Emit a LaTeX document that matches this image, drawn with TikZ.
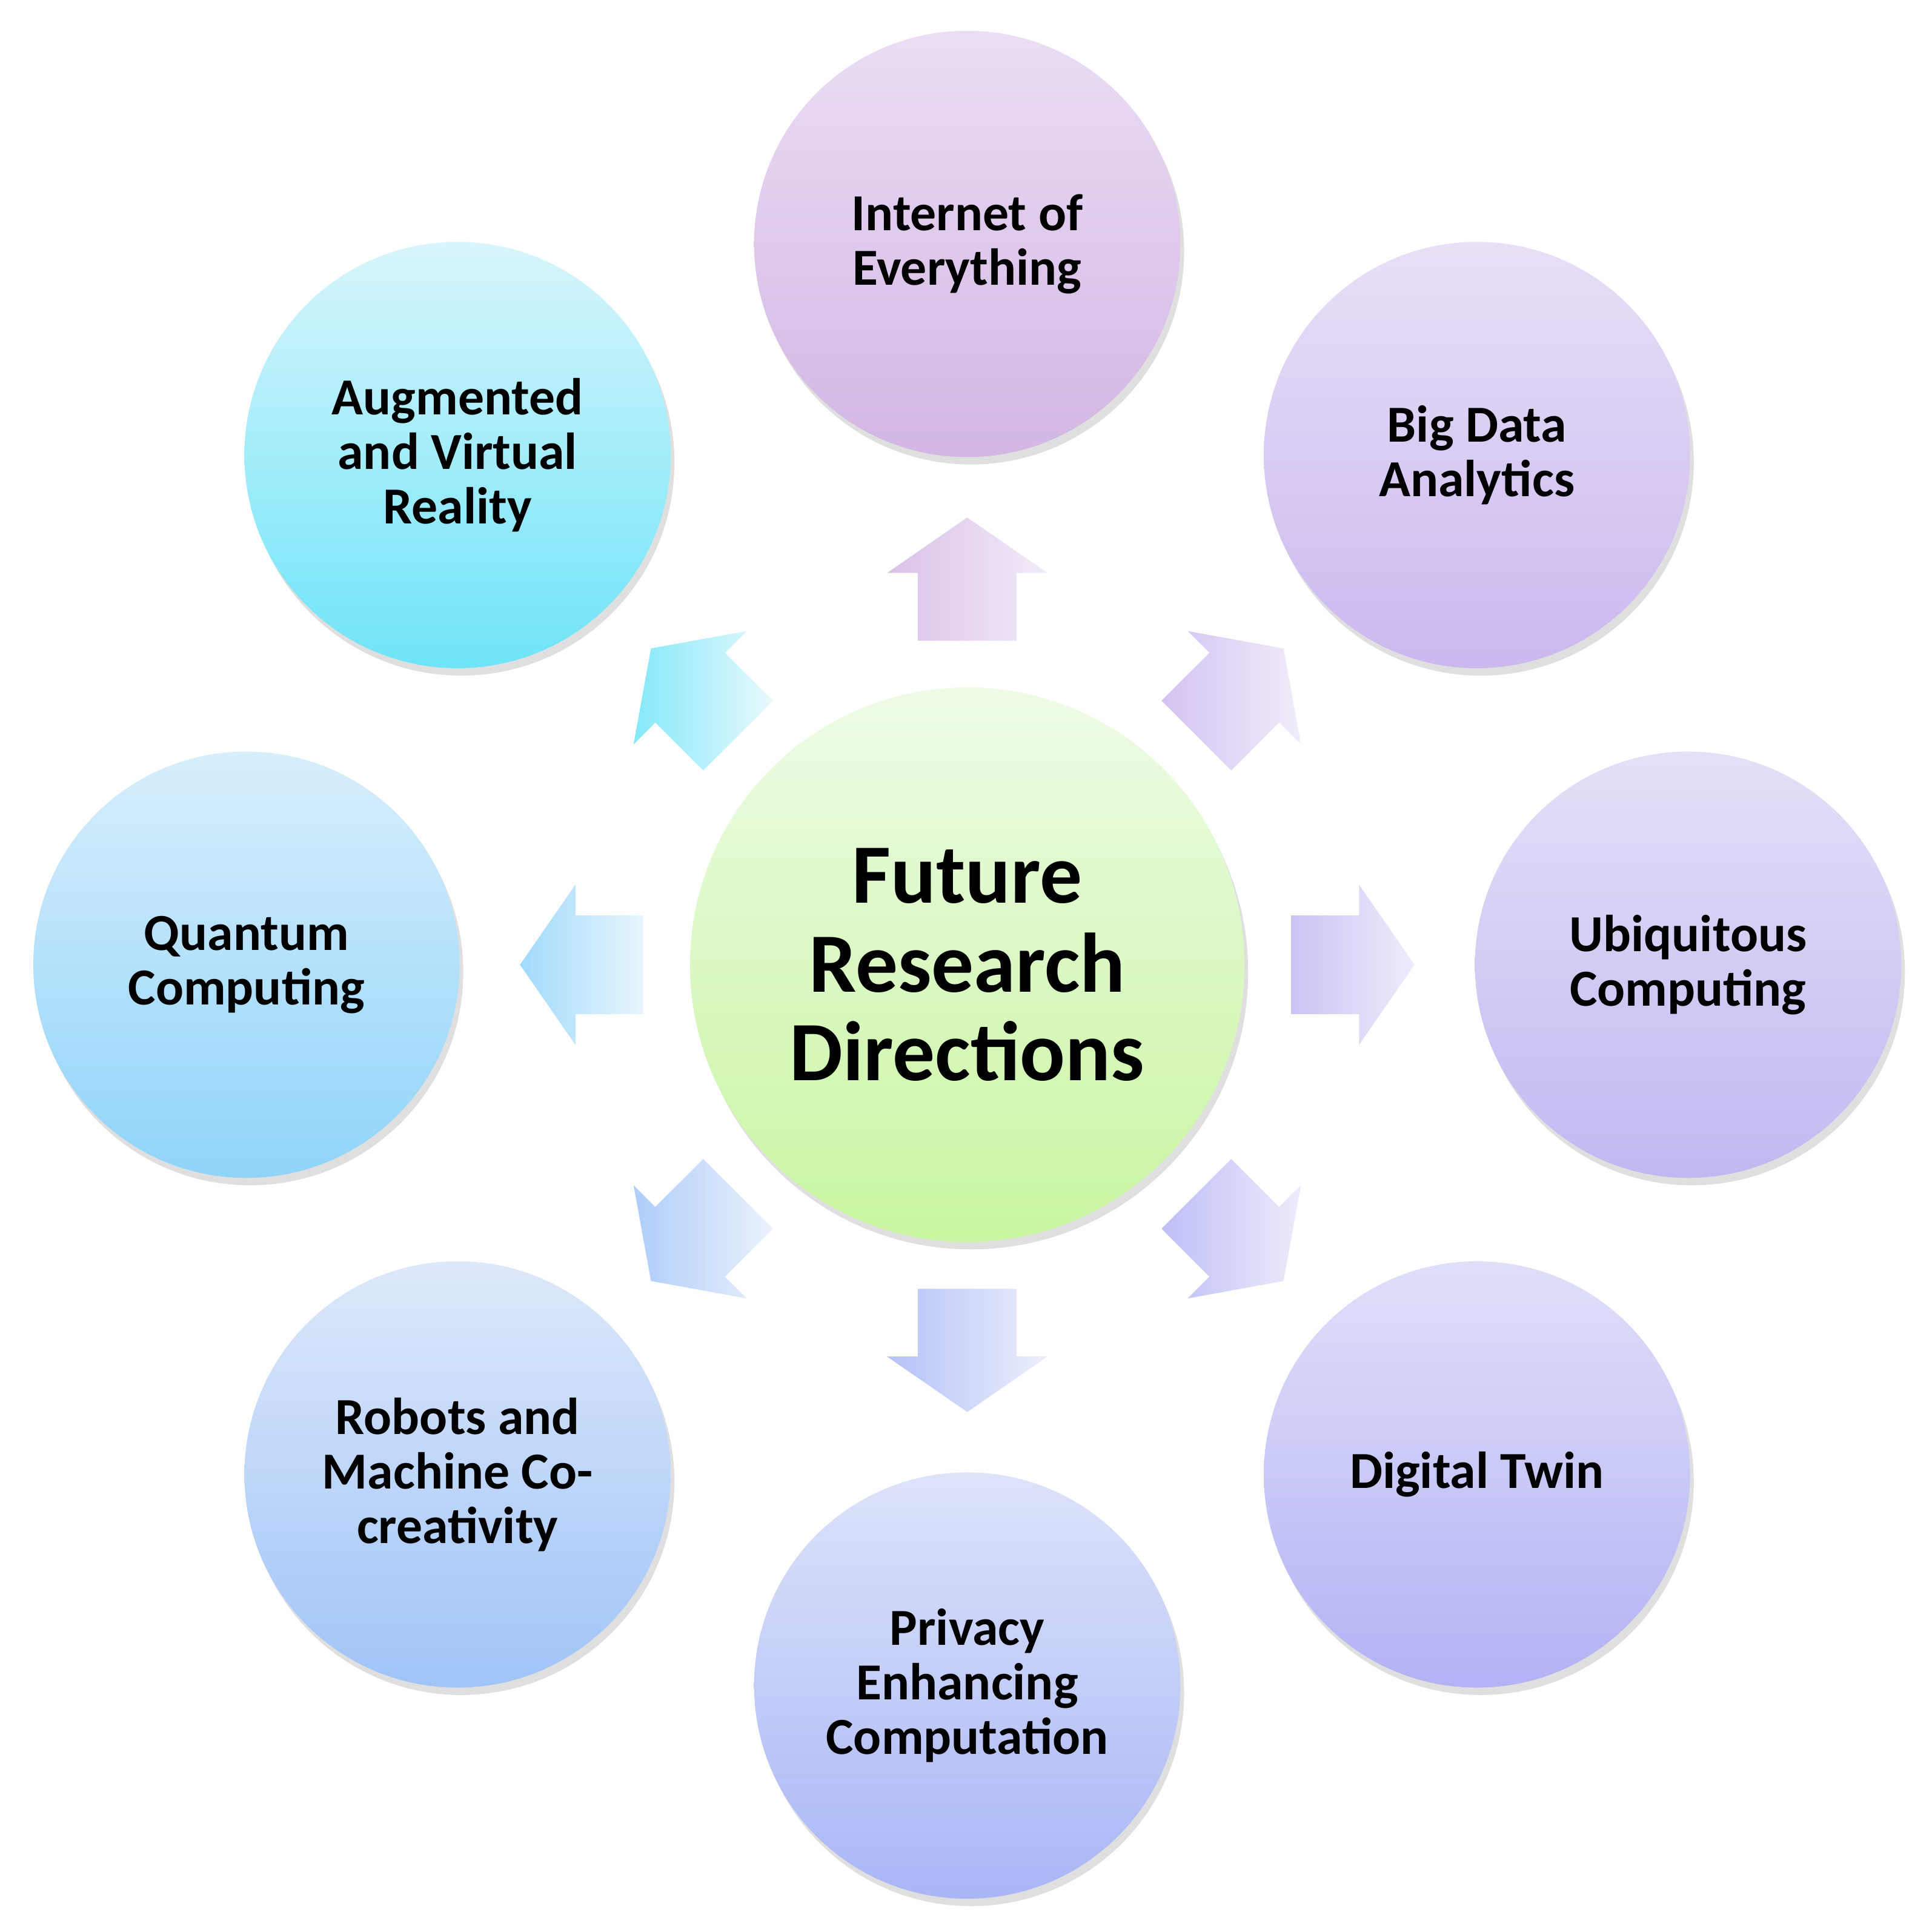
\documentclass[tikz,border=0pt]{standalone}
\usepackage{fontspec}
\setmainfont{Carlito}
\usetikzlibrary{shadows}

\definecolor{ioeT}{HTML}{EADDF4}\definecolor{ioeB}{HTML}{D3B6E3}
\definecolor{bigT}{HTML}{E7E0F6}\definecolor{bigB}{HTML}{CBB8EF}
\definecolor{ubiT}{HTML}{E3E0F7}\definecolor{ubiB}{HTML}{C2B8F1}
\definecolor{dtwT}{HTML}{E0DFF8}\definecolor{dtwB}{HTML}{B2B2F5}
\definecolor{prvT}{HTML}{DDE3F9}\definecolor{prvB}{HTML}{A8B6F6}
\definecolor{robT}{HTML}{DDE8F9}\definecolor{robB}{HTML}{A0C4F8}
\definecolor{qntT}{HTML}{D8EEFB}\definecolor{qntB}{HTML}{90D4FA}
\definecolor{arvT}{HTML}{D8F5FB}\definecolor{arvB}{HTML}{6EE4F8}
\definecolor{fgrT}{HTML}{EEFBE6}\definecolor{fgrB}{HTML}{C8F5A0}

\tikzset{
  topic/.style={circle, minimum size=3.46cm, inner sep=0pt, align=center,
    font=\fontsize{12}{12.6}\selectfont\bfseries,
    drop shadow={shadow xshift=0.03cm, shadow yshift=-0.06cm, opacity=0.25}},
  hub/.style={circle, minimum size=4.5cm, inner sep=0pt, align=center,
    font=\fontsize{19.5}{20.5}\selectfont\bfseries, top color=fgrT, bottom color=fgrB,
    drop shadow={shadow xshift=0.03cm, shadow yshift=-0.06cm, opacity=0.25}}
}

\begin{document}
\begin{tikzpicture}
\useasboundingbox (0,0) rectangle (15.68,15.68);
\begin{scope}[shift={(7.85,7.85)}]

  \node[hub](fut){Future\\Research\\Directions};

  \node[topic, top color=ioeT, bottom color=ioeB] (ioe) at (90:5.85) {Internet of\\Everything};
  \node[topic, top color=bigT, bottom color=bigB] (big) at (45:5.85) {Big Data\\Analytics};
  \node[topic, top color=ubiT, bottom color=ubiB] (ubi) at (0:5.85) {Ubiquitous\\Computing};
  \node[topic, top color=dtwT, bottom color=dtwB] (dtw) at (-45:5.85) {Digital Twin};
  \node[topic, top color=prvT, bottom color=prvB] (prv) at (-90:5.85) {Privacy\\Enhancing\\Computation};
  \node[topic, top color=robT, bottom color=robB] (rob) at (-135:5.85) {Robots and\\Machine Co-\\creativity};
  \node[topic, top color=qntT, bottom color=qntB] (qnt) at (180:5.85) {Quantum\\Computing};
  \node[topic, top color=arvT, bottom color=arvB] (arv) at (135:5.85) {Augmented\\and Virtual\\Reality};

  % block arrows from the hub
  \foreach \ang/\nm/\cl in {90/aioe/ioe, 45/abig/big, 0/aubi/ubi, -45/adtw/dtw,
                            -90/aprv/prv, -135/arob/rob, 180/aqnt/qnt, 135/aarv/arv}
  {
    \coordinate (\nm) at (\ang:3.13);
    \begin{scope}[shift={(\nm)}, rotate=\ang]
      \shade[left color=\cl B!85, right color=\cl T!60]
        (-0.5,-0.4) -- (0.05,-0.4) -- (0.05,-0.65) -- (0.5,0)
        -- (0.05,0.65) -- (0.05,0.4) -- (-0.5,0.4) -- cycle;
    \end{scope}
  }

\end{scope}
\end{tikzpicture}
\end{document}
